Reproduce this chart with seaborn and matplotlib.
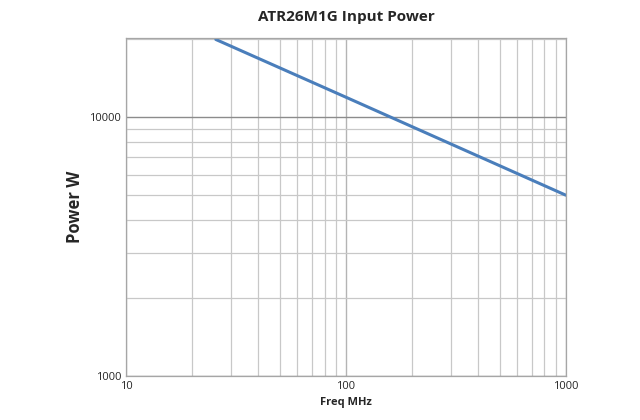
import matplotlib
matplotlib.use("Agg")
import matplotlib.pyplot as plt
import matplotlib.ticker as mticker
import pandas as pd
import seaborn as sns

freq_mhz = [25.6, 100, 1000]
power_w = [20000, 11960, 5000]

sns.set_theme(style="white")
plt.rcParams["font.family"] = ["Open Sans", "DejaVu Sans"]

df = pd.DataFrame({"freq": freq_mhz, "power": power_w})

fig, ax = plt.subplots(figsize=(6.4, 4.2), dpi=100)
fig.subplots_adjust(left=0.197, right=0.884, top=0.91, bottom=0.105)
ax.set_xscale("log")
ax.set_yscale("log")
sns.lineplot(data=df, x="freq", y="power", ax=ax, color="#4a7ebb", linewidth=2.2)

ax.set_xlim(10, 1000)
ax.set_ylim(1000, 20300)
ax.grid(True, which="minor", color="#c8c8c8", linewidth=0.9)
ax.grid(True, which="major", axis="x", color="#b4b4b4", linewidth=1.0)
ax.grid(True, which="major", axis="y", color="#8c8c8c", linewidth=1.0)
ax.xaxis.set_major_formatter(mticker.FormatStrFormatter("%d"))
ax.yaxis.set_major_formatter(mticker.FormatStrFormatter("%d"))
ax.xaxis.set_minor_formatter(mticker.NullFormatter())
ax.yaxis.set_minor_formatter(mticker.NullFormatter())
ax.yaxis.set_minor_locator(mticker.LogLocator(base=10, subs=range(2, 10)))
ax.tick_params(labelsize=8, length=0, which="both")
for s in ax.spines.values():
    s.set_color("#a6a6a6")
    s.set_linewidth(0.9)

ax.set_title("ATR26M1G Input Power", fontsize=11, fontweight="bold", pad=12)
ax.set_xlabel("Freq MHz", fontsize=8, fontweight="bold")
ax.set_ylabel("Power W", fontsize=12, fontweight="bold")

fig.savefig("out.png")
